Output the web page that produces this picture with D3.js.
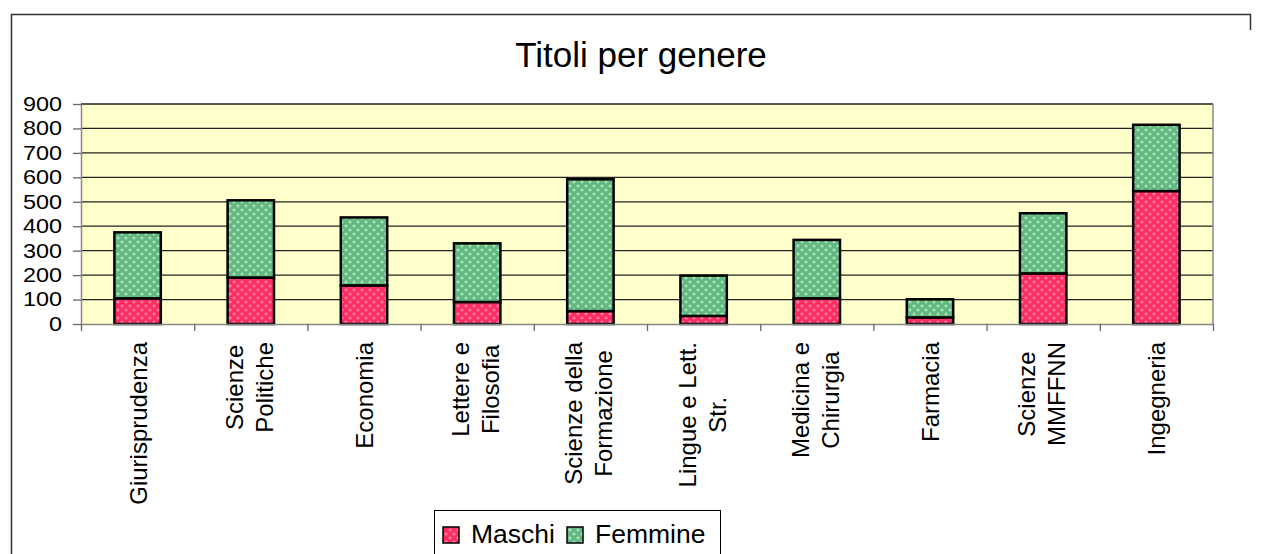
<!DOCTYPE html>
<html>
<head>
<meta charset="utf-8">
<script src="https://cdn.jsdelivr.net/npm/d3@7"></script>
<style>
  body { margin: 0; background: #fff; }
  svg text { font-family: "Liberation Sans", Arial, sans-serif; fill: #000; }
</style>
</head>
<body>
<div id="chart"></div>
<script>
const categories = ["Giurisprudenza", "Scienze\nPolitiche", "Economia", "Lettere e\nFilosofia",
  "Scienze della\nFormazione", "Lingue e Lett.\nStr.", "Medicina e\nChirurgia", "Farmacia",
  "Scienze\nMMFFNN", "Ingegneria"];
const seriesNames = ["Maschi", "Femmine"];
const maschi = [105, 190, 158, 90, 53, 33, 105, 27, 207, 544];
const femmine = [270, 316, 278, 240, 539, 165, 239, 74, 246, 271];
const yTicks = [0, 100, 200, 300, 400, 500, 600, 700, 800, 900];

const width = 1263, height = 554;
const plot = { left: 81, right: 1213, top: 104, bottom: 324 };

const svg = d3.select("#chart").append("svg")
    .attr("width", width)
    .attr("height", height);

// patterns for the hatched fills
const defs = svg.append("defs");
function makePattern(id, base, light) {
  const p = defs.append("pattern")
      .attr("id", id)
      .attr("patternUnits", "userSpaceOnUse")
      .attr("width", 8).attr("height", 8);
  p.append("rect").attr("width", 8).attr("height", 8).attr("fill", base);
  [[2, 2], [6, 6]].forEach(([cx, cy]) => {
    p.append("rect").attr("x", cx - 1.5).attr("y", cy - 0.5).attr("width", 3).attr("height", 1).attr("fill", light);
    p.append("rect").attr("x", cx - 0.5).attr("y", cy - 1.5).attr("width", 1).attr("height", 3).attr("fill", light);
  });
}
makePattern("patM", "#ff2d5e", "#ff9ccc");
makePattern("patF", "#62b883", "#c6f2c6");
const fills = { Maschi: "url(#patM)", Femmine: "url(#patF)" };

// outer frame (partial, as in the screenshot)
svg.append("path")
    .attr("d", "M11.5,554 V14.5 H1250.5 V30")
    .attr("fill", "none")
    .attr("stroke", "#333")
    .attr("stroke-width", 1.5);

// title
svg.append("text")
    .attr("x", 641)
    .attr("y", 67)
    .attr("text-anchor", "middle")
    .style("font-size", "35px")
    .text("Titoli per genere");

const y = d3.scaleLinear().domain([0, 900]).range([plot.bottom, plot.top]);
const x = d3.scaleBand()
    .domain(categories)
    .range([plot.left, plot.right])
    .paddingInner(0.59)
    .paddingOuter(0.295);
const xEdges = d3.scaleLinear().domain([0, categories.length]).range([plot.left, plot.right]);

// plot background
svg.append("rect")
    .attr("x", plot.left).attr("y", plot.top)
    .attr("width", plot.right - plot.left)
    .attr("height", plot.bottom - plot.top)
    .attr("fill", "#ffffcc");

// gridlines
svg.append("g")
    .selectAll("line")
    .data(yTicks.filter(d => d > 0))
    .enter().append("line")
    .attr("x1", plot.left).attr("x2", plot.right)
    .attr("y1", d => y(d)).attr("y2", d => y(d))
    .attr("stroke", "#222")
    .attr("stroke-width", 1.3);

// right border of plot
svg.append("line")
    .attr("x1", plot.right).attr("x2", plot.right)
    .attr("y1", plot.top).attr("y2", plot.bottom)
    .attr("stroke", "#888").attr("stroke-width", 1.5);

// y axis
const yAxis = svg.append("g")
    .attr("transform", `translate(${plot.left},0)`)
    .call(d3.axisLeft(y).tickValues(yTicks).tickSize(8).tickSizeOuter(0));
yAxis.select(".domain").attr("stroke", "#888").attr("stroke-width", 1.5);
yAxis.selectAll(".tick line").attr("stroke", "#666").attr("stroke-width", 1.3);
yAxis.selectAll(".tick text")
    .attr("x", null)
    .attr("dy", null)
    .attr("dominant-baseline", "central")
    .attr("transform", "translate(-19,0) scale(1.2,1)")
    .style("font-size", "19.5px")
    .attr("font-family", null);

// stacked bars
const rows = categories.map((c, i) => ({ cat: c, Maschi: maschi[i], Femmine: femmine[i] }));
const stacked = d3.stack().keys(seriesNames)(rows);

svg.append("g")
    .selectAll("g")
    .data(stacked)
    .enter().append("g")
    .attr("fill", d => fills[d.key])
    .selectAll("rect")
    .data(d => d)
    .enter().append("rect")
    .attr("x", d => x(d.data.cat))
    .attr("y", d => y(d[1]))
    .attr("width", x.bandwidth())
    .attr("height", d => y(d[0]) - y(d[1]))
    .attr("stroke", "#000")
    .attr("stroke-width", 2.5);

// x axis with ticks on category boundaries
const xAxis = svg.append("g")
    .attr("transform", `translate(0,${plot.bottom})`)
    .call(d3.axisBottom(xEdges).ticks(categories.length).tickSize(7).tickSizeOuter(0).tickFormat(""));
xAxis.select(".domain").attr("stroke", "#888").attr("stroke-width", 1.5);
xAxis.selectAll(".tick line").attr("stroke", "#666").attr("stroke-width", 1.3);

// rotated category labels, lines centred on each other
const labelSize = 24, lineGap = 30, labelTop = 342;
const labels = svg.append("g").style("font-size", labelSize + "px");
categories.forEach(c => {
  const lines = c.split("\n");
  const cx = x(c) + x.bandwidth() / 2;
  const first = lines.length === 1 ? 9 : -8;
  const texts = lines.map((ln, j) => labels.append("text")
      .attr("text-anchor", "middle")
      .text(ln));
  const maxLen = d3.max(texts, t => t.node().getComputedTextLength());
  texts.forEach((t, j) => {
    const bx = cx + first + j * lineGap;
    t.attr("transform", `translate(${bx},${labelTop + maxLen / 2}) rotate(-90)`);
  });
});

// legend
const legend = svg.append("g");
legend.append("rect")
    .attr("x", 434.5).attr("y", 510.5)
    .attr("width", 286).attr("height", 60)
    .attr("fill", "#fff")
    .attr("stroke", "#000").attr("stroke-width", 1);
const legendItems = [{ key: "Maschi", sx: 443, tx: 471 }, { key: "Femmine", sx: 567, tx: 595 }];
legendItems.forEach(it => {
  legend.append("rect")
      .attr("x", it.sx).attr("y", 527)
      .attr("width", 16).attr("height", 16)
      .attr("fill", fills[it.key])
      .attr("stroke", "#000").attr("stroke-width", 1.5);
  legend.append("text")
      .attr("x", it.tx).attr("y", 543)
      .style("font-size", "26.5px")
      .text(it.key);
});
</script>
</body>
</html>
